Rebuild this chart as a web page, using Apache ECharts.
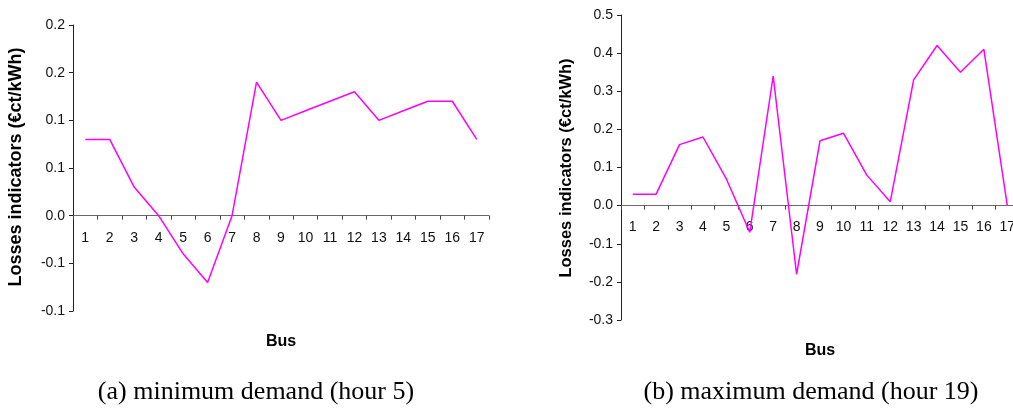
<!DOCTYPE html>
<html>
<head>
<meta charset="utf-8">
<script src="https://cdn.jsdelivr.net/npm/echarts@6/dist/echarts.min.js"></script>
<style>
  html, body { margin: 0; padding: 0; background: #fff; overflow: hidden; }
  #chart { width: 1013px; height: 409px; }
</style>
</head>
<body>
<div id="chart"></div>
<script>
// bus numbers
var buses = ['1', '2', '3', '4', '5', '6', '7', '8', '9', '10', '11', '12', '13', '14', '15', '16', '17'];

// (a) minimum demand, hour 5
var minDemand = [0.08, 0.08, 0.03, 0.0, -0.04, -0.07, 0.0, 0.14, 0.10, 0.11, 0.12, 0.13, 0.10, 0.11, 0.12, 0.12, 0.08];
// (b) maximum demand, hour 19
var maxDemand = [0.03, 0.03, 0.16, 0.18, 0.07, -0.07, 0.34, -0.18, 0.17, 0.19, 0.08, 0.01, 0.33, 0.42, 0.35, 0.41, 0.0];

// tick labels as printed (one decimal, rounded)
var yLabelsA = ['-0.1', '-0.1', '0.0', '0.1', '0.1', '0.2', '0.2'];
var yLabelsB = ['-0.3', '-0.2', '-0.1', '0.0', '0.1', '0.2', '0.3', '0.4', '0.5'];

var chart = echarts.init(document.getElementById('chart'));

var sans = '"Liberation Sans", Arial, sans-serif';
var serif = '"Liberation Serif", "Times New Roman", serif';

// the category axis sits on y = 0; offset lifts it from the grid bottom
// (gridHeight * |min| / (max - min))
function xAxisFor(gridIndex, lift, nameGap, labelMargin) {
    return {
        type: 'category',
        gridIndex: gridIndex,
        data: buses,
        boundaryGap: true,
        offset: -lift,
        name: 'Bus',
        nameLocation: 'middle',
        nameGap: nameGap,
        nameTextStyle: { fontFamily: sans, fontSize: 16, fontWeight: 'bold', color: '#000' },
        axisLine: { onZero: false, lineStyle: { color: '#6a6a6a', width: 1 } },
        axisTick: { show: true, length: 4, alignWithLabel: false, lineStyle: { color: '#444' } },
        axisLabel: { interval: 0, margin: labelMargin, fontFamily: sans, fontSize: 14, color: '#111' },
        splitLine: { show: false }
    };
}

function yAxisFor(gridIndex, min, max, step, labels) {
    return {
        type: 'value',
        gridIndex: gridIndex,
        min: min,
        max: max,
        interval: step,
        axisLine: { show: true, lineStyle: { color: '#222', width: 1 } },
        axisTick: { show: true, length: 4, lineStyle: { color: '#222' } },
        axisLabel: {
            margin: 8,
            fontFamily: sans,
            fontSize: 14,
            color: '#111',
            formatter: function (v, i) { return labels[i]; }
        },
        splitLine: { show: false }
    };
}

var option = {
    animation: false,
    backgroundColor: '#fff',
    grid: [
        { left: 73, top: 25, width: 416, height: 286, outerBoundsMode: 'none', containLabel: false },
        { left: 621, top: 15, width: 398, height: 305, outerBoundsMode: 'none', containLabel: false }
    ],
    xAxis: [
        xAxisFor(0, 286 * 0.1 / 0.3, 118, 15),
        xAxisFor(1, 305 * 0.3 / 0.8, 137, 15)
    ],
    yAxis: [
        yAxisFor(0, -0.1, 0.2, 0.05, yLabelsA),
        yAxisFor(1, -0.3, 0.5, 0.1, yLabelsB)
    ],
    graphic: [
        {
            type: 'text', x: 16, y: 167, rotation: Math.PI / 2,
            style: { text: 'Losses indicators (€ct/kWh)', fontFamily: sans, fontSize: 18, fontWeight: 'bold', fill: '#000', align: 'center', verticalAlign: 'middle' }
        },
        {
            type: 'text', x: 566, y: 168, rotation: Math.PI / 2,
            style: { text: 'Losses indicators (€ct/kWh)', fontFamily: sans, fontSize: 16.5, fontWeight: 'bold', fill: '#000', align: 'center', verticalAlign: 'middle' }
        },
        {
            type: 'text', x: 256, y: 392,
            style: { text: '(a) minimum demand (hour 5)', fontFamily: serif, fontSize: 26, fill: '#000', align: 'center', verticalAlign: 'middle' }
        },
        {
            type: 'text', x: 811, y: 392,
            style: { text: '(b) maximum demand (hour 19)', fontFamily: serif, fontSize: 26, fill: '#000', align: 'center', verticalAlign: 'middle' }
        }
    ],
    series: [
        {
            name: 'hour 5',
            type: 'line',
            xAxisIndex: 0,
            yAxisIndex: 0,
            data: minDemand,
            showSymbol: false,
            lineStyle: { color: '#ff00ff', width: 1.5 },
            itemStyle: { color: '#ff00ff' }
        },
        {
            name: 'hour 19',
            type: 'line',
            xAxisIndex: 1,
            yAxisIndex: 1,
            data: maxDemand,
            showSymbol: false,
            lineStyle: { color: '#ff00ff', width: 1.5 },
            itemStyle: { color: '#ff00ff' }
        }
    ]
};

chart.setOption(option);
</script>
</body>
</html>
